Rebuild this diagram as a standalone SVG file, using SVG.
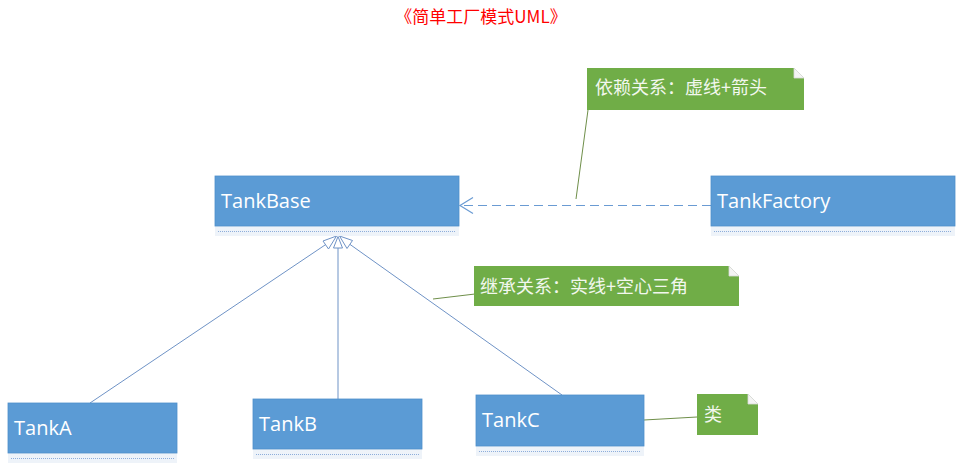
<svg xmlns="http://www.w3.org/2000/svg" width="957" height="466" viewBox="0 0 957 466">
<style>
.box{fill:#5b9bd5;stroke:#4f8fca;stroke-width:0.8}
.strip{fill:#eef3f9}
.dots{stroke:#8eaedb;stroke-width:1.2;stroke-dasharray:1 1}
.cls{font-family:"Open Sans","Noto Sans",sans-serif;font-size:20px;fill:#ffffff}
.note{fill:#70ad47}
.fold{fill:#f4f4f4;stroke:#d9d9d9;stroke-width:0.8}
.ntxt{font-family:"Noto Sans CJK SC","Liberation Serif",serif;font-size:18px;fill:#f2f7ee}
.inh{stroke:#6f93c6;stroke-width:1;fill:none}
.tri{fill:#ffffff;stroke:#6f93c6;stroke-width:1}
.dep{stroke:#6a9bd3;stroke-width:1.2;fill:none}
.nl{stroke:#6f8f4a;stroke-width:1;fill:none}
</style>
<text x="481" y="23" text-anchor="middle" font-family="Noto Sans CJK SC, sans-serif" font-size="17" fill="#ff0000">《简单工厂模式UML》</text>

<g id="connectors">
<path class="inh" d="M90,403 L328,243"/>
<path class="tri" d="M336.5,236 L323,241 L328.5,249 Z"/>
<path class="inh" d="M338,399 L338,248"/>
<path class="tri" d="M338,236.5 L333.5,248 L342.5,248 Z"/>
<path class="inh" d="M562,395 L348,243"/>
<path class="tri" d="M339.5,236 L352.5,240.5 L347,248.5 Z"/>
<path class="dep" d="M711,205.5 L460,205.5" stroke-dasharray="9 5"/>
<path class="dep" d="M473,197.5 L460,205.5 L473,213.5"/>
<path class="nl" d="M588,110 L576,199"/>
<path class="nl" d="M475,294 L433,299"/>
<path class="nl" d="M697,417 L644,420"/>
</g>

<g id="TankBase">
<rect class="strip" x="215" y="226" width="244" height="10"/>
<line class="dots" x1="218" y1="231.5" x2="456" y2="231.5"/>
<rect class="box" x="215" y="176" width="244" height="50"/>
<text class="cls" x="221" y="208">TankBase</text>
</g>
<g id="TankFactory">
<rect class="strip" x="711" y="226" width="244" height="10"/>
<line class="dots" x1="714" y1="231.5" x2="952" y2="231.5"/>
<rect class="box" x="711" y="176" width="244" height="50"/>
<text class="cls" x="717" y="208">TankFactory</text>
</g>
<g id="TankA">
<rect class="strip" x="8" y="453" width="169" height="10"/>
<line class="dots" x1="11" y1="458.5" x2="174" y2="458.5"/>
<rect class="box" x="8" y="403" width="169" height="50"/>
<text class="cls" x="14" y="435">TankA</text>
</g>
<g id="TankB">
<rect class="strip" x="253" y="449" width="169" height="10"/>
<line class="dots" x1="256" y1="454.5" x2="419" y2="454.5"/>
<rect class="box" x="253" y="399" width="169" height="50"/>
<text class="cls" x="259" y="431">TankB</text>
</g>
<g id="TankC">
<rect class="strip" x="476" y="446" width="168" height="10"/>
<line class="dots" x1="479" y1="451.5" x2="641" y2="451.5"/>
<rect class="box" x="476" y="395" width="168" height="51"/>
<text class="cls" x="482" y="427">TankC</text>
</g>

<g id="note-dependency">
<path class="note" d="M587,68 H794 L804,78 V110 H587 Z"/>
<path class="fold" d="M794,68 L804,78 L794,78 Z"/>
<text class="ntxt" x="595" y="94">依赖关系：虚线+箭头</text>
</g>
<g id="note-inheritance">
<path class="note" d="M474,266 H729 L739,276 V306 H474 Z"/>
<path class="fold" d="M729,266 L739,276 L729,276 Z"/>
<text class="ntxt" x="480" y="293">继承关系：实线+空心三角</text>
</g>
<g id="note-class">
<path class="note" d="M697,394 H748 L758,404 V435 H697 Z"/>
<path class="fold" d="M748,394 L758,404 L748,404 Z"/>
<text class="ntxt" x="704" y="421">类</text>
</g>
</svg>
